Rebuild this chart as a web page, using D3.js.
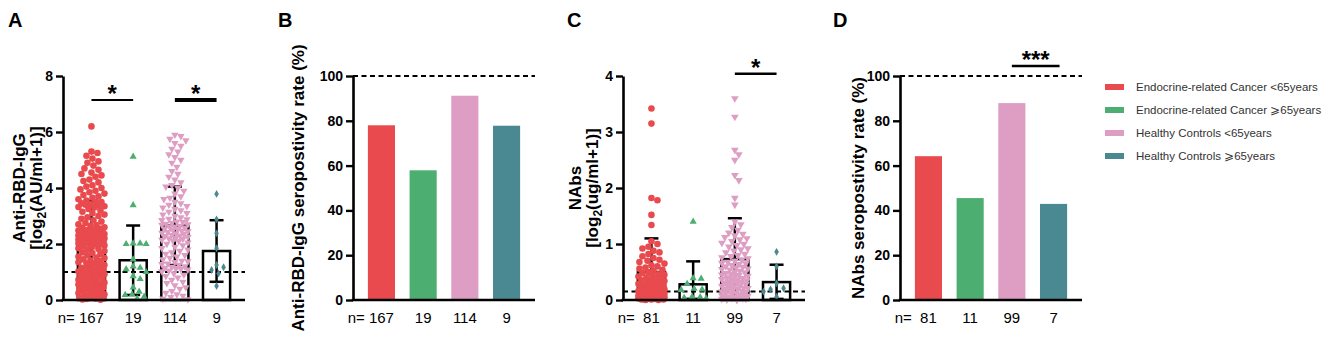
<!DOCTYPE html>
<html><head><meta charset="utf-8">
<script src="https://cdn.jsdelivr.net/npm/d3@7"></script>
<style>body{margin:0;background:#fff}svg{display:block}text{font-family:"Liberation Sans",Arial,sans-serif}</style>
</head><body><svg id="c" width="1325" height="337"></svg>
<script>
// ---------- DATA ----------
const groups = ["Endocrine-related Cancer <65years", "Endocrine-related Cancer \u2A7E65years", "Healthy Controls <65years", "Healthy Controls \u2A7E65years"];
const colors = ["#E84A4E", "#4DAE72", "#DE9EC3", "#4A8892"];
const nIgG = ["167", "19", "114", "9"];
const nNAbs = ["81", "11", "99", "7"];

// Panel A: anti-RBD-IgG, log2(AU/ml+1)
const iggCancerYoung = [6.2,5.3,5.25,5.15,5.05,4.95,4.9,4.8,4.7,4.65,4.55,4.5,4.45,
 4.4,4.3,4.25,4.2,4.1,4.05,4.0,3.95,3.9,3.85,3.8,3.75,3.7,3.65,3.6,3.55,3.5,3.5,3.45,3.42,3.4,3.38,3.35,3.32,3.3,
 3.25,3.2,3.15,3.1,3.05,3.0,2.95,2.9,2.85,2.8,2.75,2.7,2.68,2.65,2.6,2.58,2.55,2.52,2.5,2.48,2.45,2.45,2.42,2.4,2.4,2.38,2.35,2.35,2.32,2.3,2.3,2.28,2.25,2.25,2.22,2.2,2.2,2.18,2.15,2.15,2.12,2.1,2.1,2.08,2.05,2.05,2.02,2.0,2.0,2.0,2.48,2.36,2.26,2.16,2.06,2.44,2.34,
 1.95,1.92,1.9,1.85,1.82,1.8,1.75,1.7,1.68,1.65,1.6,1.55,1.52,1.5,1.45,1.42,1.4,1.35,1.32,1.3,1.25,1.22,1.2,1.15,1.12,1.1,1.08,1.05,1.02,1.0,
 0.98,0.95,0.92,0.9,0.88,0.85,0.82,0.8,0.78,0.75,0.72,0.7,0.68,0.65,0.62,0.6,0.58,0.55,0.52,0.5,0.48,0.45,0.42,0.4,0.38,0.35,0.32,0.3,0.28,0.25,0.22,0.2,0.18,0.15,0.12,0.1,0.08,0.06,0.05,0.04,0.02,0.01];
const iggCancerOld = [5.12,3.39,2.02,2.0,2.0,2.02,1.45,1.2,1.15,1.1,1.0,0.85,0.75,0.45,0.3,0.2,0.18,0.12,0.05];
const iggHealthyYoung = [5.9,5.85,5.75,5.7,5.6,5.5,5.4,5.3,5.2,5.1,5.0,4.9,
 4.75,4.6,4.5,4.4,4.3,4.2,4.1,4.05,4.0,3.9,3.8,3.7,3.65,3.6,3.5,
 3.45,3.4,3.35,3.3,3.25,3.2,3.15,3.1,3.05,3.0,2.95,2.9,2.88,2.85,2.8,2.78,2.75,2.72,2.7,2.68,2.65,2.62,2.6,2.58,2.55,2.52,2.5,2.48,2.45,2.42,2.4,2.38,2.35,2.32,2.3,2.28,2.25,2.22,2.2,2.18,2.15,2.12,2.1,2.05,2.0,
 1.95,1.9,1.85,1.8,1.75,1.7,1.65,1.6,1.55,1.5,1.45,1.4,1.38,1.35,1.3,1.28,1.25,1.2,1.18,1.15,1.12,1.1,1.08,1.05,1.02,
 0.95,0.9,0.85,0.8,0.72,0.65,0.6,0.52,0.45,0.4,0.32,0.25,0.2,0.15,0.1,0.05,0.02];
const iggHealthyOld = [3.79,2.88,2.38,1.85,1.25,1.17,1.07,0.95,0.5];
const iggMean = [2.15, 1.42, 2.65, 1.75];
const iggSD = [1.4, 1.24, 1.4, 1.1];
const iggCutoff = 1.0;
const iggTicks = [0, 2, 4, 6, 8];

// Panel B: anti-RBD-IgG seropositivity (%)
const iggRate = [78.0, 57.9, 91.2, 77.8];

// Panel C: NAbs, log2(ug/ml+1)
const nabCancerYoung = [3.42,3.15,1.82,1.78,1.52,1.34,
 1.05,1.0,0.95,0.92,0.88,0.85,0.82,0.78,0.75,0.72,0.7,0.68,0.65,0.62,0.6,0.58,0.56,0.54,0.52,0.5,
 0.48,0.46,0.45,0.44,0.42,0.4,0.39,0.38,0.36,0.35,0.34,0.32,0.31,0.3,0.29,0.28,0.27,0.26,0.25,0.24,
 0.23,0.22,0.21,0.2,0.19,0.18,0.17,0.16,0.15,0.14,0.13,0.12,0.12,0.11,0.1,0.1,0.09,0.08,0.08,0.07,
 0.06,0.06,0.05,0.05,0.04,0.04,0.03,0.03,0.02,0.02,0.01,0.01,0.01,0.0,0.0];
const nabCancerOld = [1.40,0.39,0.38,0.29,0.2,0.19,0.18,0.06,0.05,0.04,0.03];
const nabHealthyYoung = [3.6,3.27,2.68,2.6,2.5,2.23,2.14,1.82,1.7,
 1.4,1.35,1.3,1.25,1.2,1.18,1.15,1.12,1.1,1.08,1.05,1.02,1.0,0.98,0.95,0.92,0.9,0.88,0.85,0.82,
 0.8,0.78,0.76,0.74,0.72,0.7,0.68,0.66,0.65,0.64,0.62,0.6,0.59,0.58,0.56,0.55,0.54,0.52,0.5,0.49,
 0.48,0.46,0.45,0.44,0.43,0.42,0.4,0.39,0.38,0.37,0.36,0.35,0.34,0.33,0.32,0.31,0.3,0.29,0.28,0.27,
 0.26,0.25,0.24,0.23,0.22,0.21,0.2,0.19,0.18,0.17,0.16,0.15,0.14,0.13,0.12,0.11,0.1,0.09,0.08,0.07,
 0.06,0.05,0.05,0.04,0.03,0.03,0.02,0.02,0.01,0.0];
const nabHealthyOld = [0.86,0.6,0.3,0.21,0.19,0.15,0.06];
const nabMean = [0.5, 0.28, 0.73, 0.32];
const nabSD = [0.6, 0.41, 0.73, 0.31];
const nabCutoff = 0.15;
const nabTicks = [0, 1, 2, 3, 4];

// Panel D: NAbs seropositivity (%)
const nabRate = [64.2, 45.5, 87.9, 42.9];
const rateTicks = [0, 20, 40, 60, 80, 100];

// significance annotations: [groupFrom, groupTo, level (data units), label]
const sigA = [[0, 1, 7.14, "*"], [2, 3, 7.14, "*"]];
const sigC = [[2, 3, 4.04, "*"]];
const sigD = [[2, 3, 104.5, "***"]];

// ---------- DRAW ----------
const svg = d3.select("#c");
const TOP = 76, BOT = 300, W = 182;
const shapes = [d3.symbolCircle, d3.symbolTriangle, d3.symbolTriangle, d3.symbolDiamond];

function bandScale(x0) {
  return d3.scaleBand().domain(d3.range(4)).range([x0, x0 + W]).paddingInner(0.35).paddingOuter(0.357);
}

function yAxis(g, y, ticks, x0) {
  const ax = g.append("g").attr("transform", `translate(${x0},0)`)
    .call(d3.axisLeft(y).tickValues(ticks).tickFormat(d3.format("d")).tickSize(7).tickSizeOuter(0).tickPadding(3));
  ax.select(".domain").attr("stroke", "#000").attr("stroke-width", 2.6);
  ax.selectAll(".tick line").attr("stroke", "#000").attr("stroke-width", 2.4);
  ax.selectAll(".tick text").attr("fill", "#000").attr("font-size", 14).attr("font-weight", "bold")
    .attr("font-family", '"Liberation Sans",Arial,sans-serif');
  g.append("line").attr("x1", x0 - 1.3).attr("x2", x0 + W).attr("y1", y(0)).attr("y2", y(0))
    .attr("stroke", "#000").attr("stroke-width", 2.6);
}

function nLabels(g, x, labels) {
  g.append("text").attr("x", x(0) - 3).attr("y", 323).attr("text-anchor", "end")
    .attr("font-size", 15).text("n=");
  g.selectAll(".nl").data(labels).join("text").attr("x", (d, i) => x(i) + x.bandwidth() / 2)
    .attr("y", 323).attr("text-anchor", "middle").attr("font-size", 15).text(d => d);
}

function dashed(g, y, v, x0) {
  g.append("line").attr("x1", x0).attr("x2", x0 + W).attr("y1", y(v)).attr("y2", y(v))
    .attr("stroke", "#000").attr("stroke-width", 2).attr("stroke-dasharray", "5,3.5");
}

function sig(g, x, y, list, widths) {
  list.forEach((s, k) => {
    const xa = x(s[0]) + x.bandwidth() / 2, xb = x(s[1]) + x.bandwidth() / 2 + (s[2] > 100 ? 6 : 0);
    g.append("line").attr("x1", xa).attr("x2", xb).attr("y1", y(s[2])).attr("y2", y(s[2]))
      .attr("stroke", "#000").attr("stroke-width", widths[k]);
    g.append("text").attr("x", (xa + xb) / 2).attr("y", y(s[2]) + 2).attr("text-anchor", "middle")
      .attr("font-size", 24).attr("font-weight", "bold").text(s[3]);
  });
}

function letter(t, x) {
  svg.append("text").attr("x", x).attr("y", 27).attr("font-size", 20).attr("font-weight", "bold").text(t);
}

function swarm(vals, y, diam, maxOff) {
  const pts = vals.map(v => ({ v, y: y(v) })).sort((a, b) => a.y - b.y);
  const placed = [];
  const cands = [0];
  for (let k = 1; k <= maxOff; k++) cands.push(k, -k);
  for (const p of pts) {
    let best = 0, bestD = -1;
    for (const o of cands) {
      let minD = Infinity;
      for (const q of placed) {
        if (Math.abs(q.y - p.y) >= diam) continue;
        const d = Math.hypot(q.x - o, q.y - p.y);
        if (d < minD) minD = d;
      }
      if (minD >= diam) { best = o; break; }
      if (minD > bestD) { bestD = minD; best = o; }
    }
    p.x = best;
    placed.push(p);
  }
  return pts;
}

function scatterPanel(o) {
  const g = svg.append("g");
  const x = bandScale(o.x0);
  const y = d3.scaleLinear().domain([0, o.ticks[o.ticks.length - 1]]).range([BOT, TOP]);
  const bw = x.bandwidth();
  g.selectAll(".bar").data(o.mean).join("rect")
    .attr("x", (d, i) => x(i)).attr("width", bw).attr("y", d => y(d)).attr("height", d => y(0) - y(d))
    .attr("fill", "#fff").attr("stroke", "#000").attr("stroke-width", 2.5);
  dashed(g, y, o.cutoff, o.x0);
  o.mean.forEach((m, i) => {
    const cx = x(i) + bw / 2, hi = y(m + o.sd[i]), lo = y(Math.max(0.02, m - o.sd[i]));
    g.append("line").attr("x1", cx).attr("x2", cx).attr("y1", hi).attr("y2", lo).attr("stroke", "#000").attr("stroke-width", 2.5);
    [hi, lo].forEach(yy => g.append("line").attr("x1", cx - 7).attr("x2", cx + 7).attr("y1", yy).attr("y2", yy)
      .attr("stroke", "#000").attr("stroke-width", 2.5));
  });
  o.series.forEach((vals, i) => {
    const cx = x(i) + bw / 2;
    const pts = swarm(vals, y, o.diam[i], 13);
    const sym = d3.symbol().type(shapes[i]).size(o.size[i]);
    g.selectAll(".p" + i).data(pts).join("path").attr("d", sym)
      .attr("transform", d => `translate(${cx + d.x},${d.y})` + (i === 2 ? " rotate(180)" : ""))
      .attr("fill", colors[i]);
  });
  yAxis(g, y, o.ticks, o.x0);
  nLabels(g, x, o.n);
  sig(g, x, y, o.sig, o.sigW);
  g.append("text").attr("transform", `translate(${o.tx[0]},${(TOP + BOT) / 2}) rotate(-90)`)
    .attr("text-anchor", "middle").attr("font-size", 17).attr("font-weight", "bold").attr("dy", "0.35em").text(o.title1);
  const t2 = g.append("text").attr("transform", `translate(${o.tx[1]},${(TOP + BOT) / 2}) rotate(-90)`)
    .attr("text-anchor", "middle").attr("font-size", 17).attr("font-weight", "bold").attr("dy", "0.35em");
  t2.append("tspan").text("[log");
  t2.append("tspan").attr("font-size", 12).attr("dy", 4).text("2");
  t2.append("tspan").attr("dy", -4).text(o.title2);
}

function ratePanel(o) {
  const g = svg.append("g");
  const x = bandScale(o.x0);
  const y = d3.scaleLinear().domain([0, 100]).range([BOT, TOP]);
  g.selectAll(".bar").data(o.rate).join("rect")
    .attr("x", (d, i) => x(i)).attr("width", x.bandwidth()).attr("y", d => y(d)).attr("height", d => y(0) - y(d))
    .attr("fill", (d, i) => colors[i]);
  dashed(g, y, 100, o.x0);
  yAxis(g, y, rateTicks, o.x0);
  nLabels(g, x, o.n);
  if (o.sig) sig(g, x, y, o.sig, [2.5]);
  g.append("text").attr("transform", `translate(${o.tx},${(TOP + BOT) / 2}) rotate(-90)`)
    .attr("text-anchor", "middle").attr("font-size", 17).attr("font-weight", "bold").attr("dy", "0.35em").text(o.title);
}

letter("A", 8); letter("B", 278); letter("C", 567); letter("D", 833);

scatterPanel({ x0: 63, ticks: iggTicks, mean: iggMean, sd: iggSD, cutoff: iggCutoff,
  series: [iggCancerYoung, iggCancerOld, iggHealthyYoung, iggHealthyOld],
  diam: [6, 7, 6, 7], size: [34, 22, 24, 18], n: nIgG, sig: sigA, sigW: [2, 4],
  tx: [19, 36], title1: "Anti-RBD-IgG", title2: "(AU/ml+1)]" });

ratePanel({ x0: 353, rate: iggRate, n: nIgG, tx: 298, title: "Anti-RBD-IgG seropostivity rate (%)" });

scatterPanel({ x0: 623, ticks: nabTicks, mean: nabMean, sd: nabSD, cutoff: nabCutoff,
  series: [nabCancerYoung, nabCancerOld, nabHealthyYoung, nabHealthyOld],
  diam: [6, 8, 6, 8], size: [34, 22, 26, 18], n: nNAbs, sig: sigC, sigW: [2.5],
  tx: [575, 592], title1: "NAbs", title2: "(ug/ml+1)]" });

ratePanel({ x0: 900, rate: nabRate, n: nNAbs, tx: 858, title: "NAbs seropostivity rate (%)", sig: sigD });

const lg = svg.append("g");
groups.forEach((name, i) => {
  const yy = 87 + i * 23;
  lg.append("rect").attr("x", 1105).attr("y", yy - 3).attr("width", 19).attr("height", 6).attr("fill", colors[i]);
  lg.append("text").attr("x", 1136).attr("y", yy).attr("dy", "0.35em").attr("font-size", 11.5).attr("fill", "#333").text(name);
});
</script></body></html>
